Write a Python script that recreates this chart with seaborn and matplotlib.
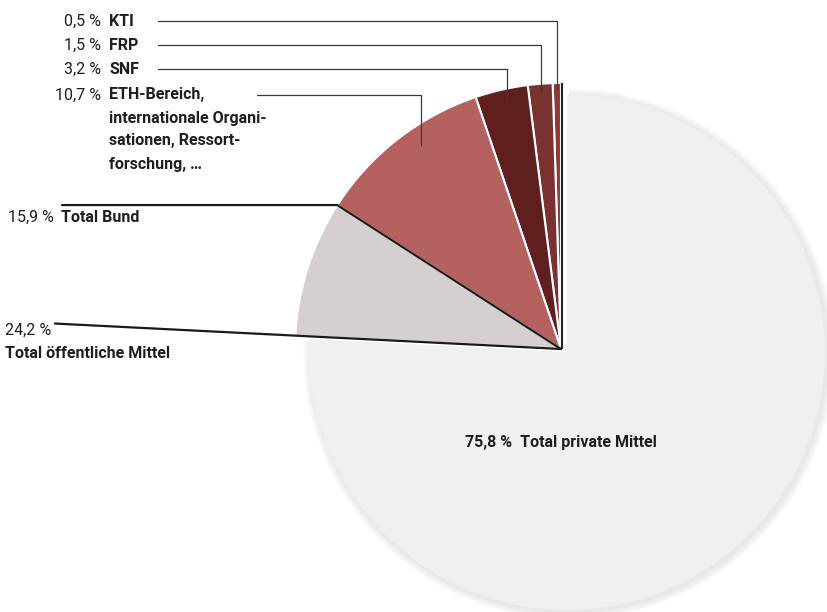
import matplotlib
matplotlib.use("Agg")
import matplotlib.pyplot as plt
import seaborn as sns
import numpy as np
from matplotlib.patches import Wedge

# ---- data ----
names = ["KTI", "FRP", "SNF",
         "ETH-Bereich,\ninternationale Organi-\nsationen, Ressort-\nforschung, …",
         "Übrige öffentliche Mittel", "Total private Mittel"]
values = [0.5, 1.5, 3.2, 10.7, 8.3, 75.8]
pct_labels = ["0,5 %", "1,5 %", "3,2 %", "10,7 %"]
bund_label = ["15,9 %", "Total Bund"]
public_label = ["24,2 %", "Total öffentliche Mittel"]
private_label = "75,8 %  Total private Mittel"
colors = ["#8c3b39", "#7a3231", "#5f1f1f", "#b5615f", "#d6cfd0", "#eff0f0"]

sns.set_theme(style="white")
plt.rcParams['font.family'] = ['Roboto', 'DejaVu Sans']

W, H = 827, 612
fig = plt.figure(figsize=(W / 100, H / 100), dpi=100)
ax = fig.add_axes([0, 0, 1, 1])

def Y(y):
    return H - y

pub_c = (561, Y(349))
pub_r = 266
prv_c = (567, Y(352))
prv_r = 258

total = sum(values)
start_priv = 90 + 360 * sum(values[:-1]) / total

# soft shadow behind private slice
for i in range(10):
    ax.add_patch(Wedge((prv_c[0] + 2, prv_c[1] - 2), prv_r + 0.5 + i * 0.8,
                       start_priv, 450, facecolor="#909090", alpha=0.02,
                       edgecolor="none", zorder=1))

# private slice (own centre / radius)
w_priv, _ = ax.pie(values, startangle=90, counterclock=True, radius=prv_r,
                   center=prv_c, colors=colors, wedgeprops=dict(linewidth=0))
for i, w in enumerate(w_priv):
    if i != len(values) - 1:
        w.set_visible(False)
    else:
        w.set_zorder(2)

# public slices
w_pub, _ = ax.pie(values, startangle=90, counterclock=True, radius=pub_r,
                  center=pub_c, colors=colors,
                  wedgeprops=dict(edgecolor="white", linewidth=1.5))
for i, w in enumerate(w_pub):
    if i == len(values) - 1:
        w.set_visible(False)
    else:
        w.set_zorder(3)

ax.set_xlim(0, W)
ax.set_ylim(0, H)
ax.set_aspect("equal")
ax.axis("off")

cx, cy = pub_c
ax.plot([cx + 1, cx + 1], [cy, cy + pub_r], color="#222222", lw=1.5, zorder=5,
        solid_capstyle="butt")

# Total Bund boundary line
a_b = np.deg2rad(90 + 360 * sum(values[:4]) / total)
bx, by = cx + pub_r * np.cos(a_b), cy + pub_r * np.sin(a_b)
ax.plot([cx, bx, 62], [cy, by, by], color="#1a1a1a", lw=1.6, zorder=5)
# Total öffentliche Mittel boundary line
a_p = np.deg2rad(90 + 360 * sum(values[:5]) / total)
L = (cx - 55) / -np.cos(a_p)
ax.plot([cx, cx + L * np.cos(a_p)], [cy, cy + L * np.sin(a_p)],
        color="#1a1a1a", lw=1.6, zorder=5)

# leader lines for small slices
leaders = [(21, 158, 557, 90), (45, 158, 541, 92), (69, 158, 507, 102), (95, 257, 421, 145)]
for (ly, x0, x1, yend) in leaders:
    ax.plot([x0, x1, x1], [Y(ly), Y(ly), Y(yend)], color="#3a3a3a", lw=0.9, zorder=6)

fs = 11.5
tc = "#1e1e1e"
for k in range(4):
    y = Y(leaders[k][0])
    ax.text(101, y, pct_labels[k], ha="right", va="center", fontsize=fs, color=tc)
    lines = names[k].split("\n")
    for j, line in enumerate(lines):
        ax.text(109, y - j * 23, line, ha="left", va="center", fontsize=fs,
                fontweight="bold", color=tc)

ax.text(54, Y(217), bund_label[0], ha="right", va="center", fontsize=fs, color=tc)
ax.text(61, Y(217), bund_label[1], ha="left", va="center", fontsize=fs,
        fontweight="bold", color=tc)
ax.text(5, Y(330), public_label[0], ha="left", va="center", fontsize=fs, color=tc)
ax.text(5, Y(354), public_label[1], ha="left", va="center", fontsize=fs,
        fontweight="bold", color=tc)
ax.text(561, Y(443), private_label, ha="center", va="center", fontsize=fs,
        fontweight="bold", color=tc, zorder=7)

fig.savefig("out.png", dpi=100, facecolor="white")
